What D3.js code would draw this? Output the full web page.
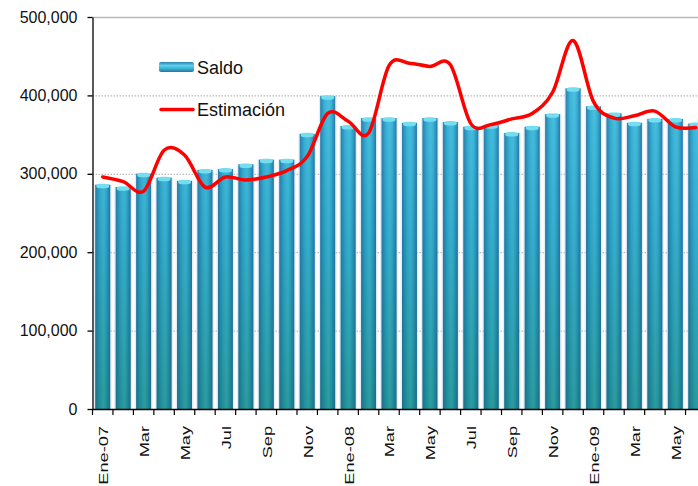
<!DOCTYPE html>
<html>
<head>
<meta charset="utf-8">
<script src="https://cdn.jsdelivr.net/npm/d3@7"></script>
<style>
    body { margin: 0; background: #fff; }
    svg { display: block; font-family: "Liberation Sans", Arial, sans-serif; }
</style>
</head>
<body>
<script>
(function () {

    //chart data
    var months = ["Ene-07", "Feb-07", "Mar-07", "Abr-07", "May-07", "Jun-07", "Jul-07", "Ago-07", "Sep-07", "Oct-07", "Nov-07", "Dic-07",
        "Ene-08", "Feb-08", "Mar-08", "Abr-08", "May-08", "Jun-08", "Jul-08", "Ago-08", "Sep-08", "Oct-08", "Nov-08", "Dic-08",
        "Ene-09", "Feb-09", "Mar-09", "Abr-09", "May-09", "Jun-09"];
    var tickLabels = ["Ene-07", "", "Mar", "", "May", "", "Jul", "", "Sep", "", "Nov", "",
        "Ene-08", "", "Mar", "", "May", "", "Jul", "", "Sep", "", "Nov", "",
        "Ene-09", "", "Mar", "", "May", ""];
    var saldo = [286000, 283000, 300000, 295000, 291000, 305000, 306000, 312000, 318000, 318000, 351000, 399000,
        361000, 371000, 371000, 365000, 371000, 366000, 360000, 362000, 352000, 360000, 376000, 409000,
        386000, 377000, 365000, 370000, 370000, 364000];
    var estimacion = [296000, 290000, 278000, 330000, 324000, 283000, 296000, 292000, 296000, 304000, 322000, 377000,
        367000, 352000, 438000, 441000, 437000, 439000, 364000, 363000, 370000, 377000, 404000, 470000,
        392000, 371000, 374000, 380000, 360000, 359000];
    var yTicks = [0, 100000, 200000, 300000, 400000, 500000];

    window.onload = setChart();

    function setChart() {
        var width = 698,
            height = 486,
            left = 92.5,
            top = 17,
            bottom = 409,
            step = 20.45;

        var svg = d3.select("body")
            .append("svg")
            .attr("width", width)
            .attr("height", height);

        var defs = svg.append("defs");

        //vertical colour of the bars, top cyan to bottom teal
        var body = defs.append("linearGradient")
            .attr("id", "barBody")
            .attr("gradientUnits", "userSpaceOnUse")
            .attr("x1", 0).attr("x2", 0)
            .attr("y1", 90).attr("y2", bottom);
        body.append("stop").attr("offset", "0%").attr("stop-color", "#3fbde0");
        body.append("stop").attr("offset", "45%").attr("stop-color", "#2ca8c9");
        body.append("stop").attr("offset", "100%").attr("stop-color", "#1f9497");

        //dark edges to look round
        var edge = defs.append("linearGradient")
            .attr("id", "barEdge")
            .attr("x1", 0).attr("x2", 1)
            .attr("y1", 0).attr("y2", 0);
        edge.append("stop").attr("offset", "0%").attr("stop-color", "#1b4f86").attr("stop-opacity", 0.55);
        edge.append("stop").attr("offset", "30%").attr("stop-color", "#1b4f86").attr("stop-opacity", 0.08);
        edge.append("stop").attr("offset", "55%").attr("stop-color", "#ffffff").attr("stop-opacity", 0.06);
        edge.append("stop").attr("offset", "75%").attr("stop-color", "#1b4f86").attr("stop-opacity", 0.1);
        edge.append("stop").attr("offset", "100%").attr("stop-color", "#1b4f86").attr("stop-opacity", 0.6);

        //legend swatch, a bar lying down
        var swatch = defs.append("linearGradient")
            .attr("id", "swatch")
            .attr("x1", 0).attr("x2", 0)
            .attr("y1", 0).attr("y2", 1);
        swatch.append("stop").attr("offset", "0%").attr("stop-color", "#2a7fa8");
        swatch.append("stop").attr("offset", "35%").attr("stop-color", "#5fd0ea");
        swatch.append("stop").attr("offset", "65%").attr("stop-color", "#3bb3d6");
        swatch.append("stop").attr("offset", "100%").attr("stop-color", "#237796");

        var x = d3.scaleBand()
            .domain(months)
            .range([left, left + months.length * step])
            .paddingInner(0.27)
            .paddingOuter(0.135);

        var y = d3.scaleLinear()
            .domain([0, 500000])
            .range([bottom, top]);

        //gridlines
        svg.append("g")
            .selectAll("line")
            .data(yTicks.slice(1))
            .enter()
            .append("line")
            .attr("x1", left)
            .attr("x2", width)
            .attr("y1", function (d) { return y(d) + 0.5; })
            .attr("y2", function (d) { return y(d) + 0.5; })
            .attr("stroke", function (d) { return d == 500000 ? "#b8b8b8" : "#a8a8a8"; })
            .attr("stroke-width", function (d) { return d == 500000 ? 1.6 : 1; })
            .attr("stroke-dasharray", function (d) { return d == 500000 ? null : "1.5,1.5"; });

        //bars
        var bars = svg.append("g")
            .selectAll(".bar")
            .data(saldo)
            .enter()
            .append("g")
            .attr("class", "bar");

        bars.append("rect")
            .attr("x", function (d, i) { return x(months[i]) - 1.5; })
            .attr("width", x.bandwidth() + 3)
            .attr("y", function (d) { return y(d); })
            .attr("height", function (d) { return bottom - y(d); })
            .attr("fill", "#c9d7ee")
            .attr("opacity", 0.45);

        bars.append("rect")
            .attr("x", function (d, i) { return x(months[i]); })
            .attr("width", x.bandwidth())
            .attr("y", function (d) { return y(d); })
            .attr("height", function (d) { return bottom - y(d); })
            .attr("fill", "url(#barBody)");

        bars.append("rect")
            .attr("x", function (d, i) { return x(months[i]); })
            .attr("width", x.bandwidth())
            .attr("y", function (d) { return y(d); })
            .attr("height", function (d) { return bottom - y(d); })
            .attr("fill", "url(#barEdge)");

        //light cap on each bar
        bars.append("rect")
            .attr("x", function (d, i) { return x(months[i]) + 1; })
            .attr("width", x.bandwidth() - 2)
            .attr("y", function (d) { return y(d) - 1; })
            .attr("height", 4.5)
            .attr("rx", 4)
            .attr("fill", "#74def0");

        //estimation line
        var line = d3.line()
            .x(function (d, i) { return x(months[i]) + x.bandwidth() / 2; })
            .y(function (d) { return y(d); })
            .curve(d3.curveCardinal.tension(0));

        svg.append("path")
            .datum(estimacion)
            .attr("d", line)
            .attr("fill", "none")
            .attr("stroke", "#ff0000")
            .attr("stroke-width", 3.5)
            .attr("stroke-linecap", "round")
            .attr("stroke-linejoin", "round");

        //y axis
        var yAxis = d3.axisLeft(y)
            .tickValues(yTicks)
            .tickSize(5)
            .tickSizeOuter(0)
            .tickPadding(10)
            .tickFormat(d3.format(","));

        var yg = svg.append("g")
            .attr("transform", "translate(" + left + ",0)")
            .call(yAxis);
        yg.selectAll("text")
            .attr("font-size", 16)
            .attr("font-family", "'Liberation Sans', Arial, sans-serif")
            .attr("fill", "#111");
        yg.selectAll("line, path").attr("stroke", "#000").attr("stroke-width", 1.3);

        //x axis labels
        var xAxis = d3.axisBottom(x)
            .tickSize(0)
            .tickSizeOuter(0)
            .tickFormat(function (d, i) { return tickLabels[i]; });

        var xg = svg.append("g")
            .attr("transform", "translate(0," + bottom + ")")
            .call(xAxis);
        xg.select(".domain")
            .attr("d", "M" + left + ",0.5H" + width)
            .attr("stroke", "#000")
            .attr("stroke-width", 1.3);
        xg.selectAll("text")
            .attr("x", 0)
            .attr("y", 0)
            .attr("dy", "0.42em")
            .attr("text-anchor", "end")
            .attr("transform", "translate(0,17) rotate(-90) scale(1.4,1)")
            .attr("font-size", 13)
            .attr("font-family", "'Liberation Sans', Arial, sans-serif")
            .attr("fill", "#111");

        //ticks between the months
        xg.selectAll(".sep")
            .data(months)
            .enter()
            .append("line")
            .attr("class", "sep")
            .attr("x1", function (d, i) { return left + i * step; })
            .attr("x2", function (d, i) { return left + i * step; })
            .attr("y1", 0)
            .attr("y2", 6)
            .attr("stroke", "#000")
            .attr("stroke-width", 1.2);

        //legend
        var legend = svg.append("g");
        legend.append("rect")
            .attr("x", 159)
            .attr("y", 62)
            .attr("width", 35)
            .attr("height", 10)
            .attr("rx", 2)
            .attr("fill", "url(#swatch)");
        legend.append("text")
            .attr("x", 197)
            .attr("y", 74)
            .attr("font-size", 18)
            .attr("fill", "#111")
            .text("Saldo");
        legend.append("line")
            .attr("x1", 161)
            .attr("x2", 193)
            .attr("y1", 109.5)
            .attr("y2", 109.5)
            .attr("stroke", "#ff0000")
            .attr("stroke-width", 3.5)
            .attr("stroke-linecap", "round");
        legend.append("text")
            .attr("x", 197)
            .attr("y", 116)
            .attr("font-size", 18)
            .attr("fill", "#111")
            .text("Estimación");
    };

})();
</script>
</body>
</html>
